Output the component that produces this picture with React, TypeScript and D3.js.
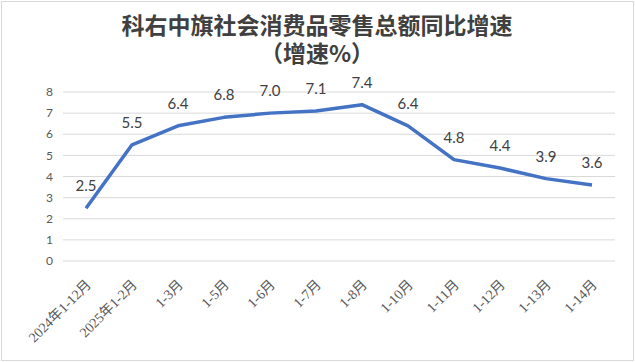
import * as d3 from "d3";

const categories = [
  "2024年1-12月",
  "2025年1-2月",
  "1-3月",
  "1-5月",
  "1-6月",
  "1-7月",
  "1-8月",
  "1-10月",
  "1-11月",
  "1-12月",
  "1-13月",
  "1-14月",
];
const growth = [2.5, 5.5, 6.4, 6.8, 7.0, 7.1, 7.4, 6.4, 4.8, 4.4, 3.9, 3.6];
const yTicks = [0, 1, 2, 3, 4, 5, 6, 7, 8];
const titleLines = ["科右中旗社会消费品零售总额同比增速", "（增速%）"];

const width = 635;
const height = 362;
const plotLeft = 63;
const plotRight = 615;
const plotTop = 92;
const plotBottom = 261;

export default function App() {
  const x = d3
    .scaleBand<string>()
    .domain(categories)
    .range([plotLeft, plotRight]);
  const y = d3.scaleLinear().domain([0, 8]).range([plotBottom, plotTop]);

  const cx = (c: string) => (x(c) ?? 0) + x.bandwidth() / 2;

  const line = d3
    .line<number>()
    .x((_, i) => cx(categories[i]))
    .y((d) => y(d));

  return (
    <svg
      width={width}
      height={height}
      style={{ position: "absolute", left: 0, top: 0, background: "#fff" }}
    >
      <rect x={1.5} y={1.5} width={632} height={359} fill="#fff" stroke="#d9d9d9" />

      {titleLines.map((t, i) => (
        <text
          key={t}
          x={317}
          y={34 + i * 28}
          textAnchor="middle"
          fontFamily="'Noto Sans CJK SC', sans-serif"
          fontSize={23}
          fontWeight={700}
          fill="#404040"
        >
          {t}
        </text>
      ))}

      {yTicks.map((t) => (
        <g key={t}>
          <line
            x1={plotLeft}
            x2={plotRight}
            y1={y(t)}
            y2={y(t)}
            stroke="#d9d9d9"
            strokeWidth={1}
          />
          <text
            x={53}
            y={y(t)}
            dy="0.35em"
            textAnchor="end"
            fontFamily="Lato, 'Open Sans', sans-serif"
            fontSize={12}
            fill="#595959"
          >
            {t}
          </text>
        </g>
      ))}

      {categories.map((c) => (
        <text
          key={c}
          transform={`translate(${cx(c) + 6},${plotBottom + 24.5}) rotate(-45)`}
          textAnchor="end"
          fontFamily="'Liberation Serif', 'Noto Sans CJK SC', serif"
          fontSize={14}
          fill="#595959"
        >
          {c}
        </text>
      ))}

      <path
        d={line(growth) ?? ""}
        fill="none"
        stroke="#4472c4"
        strokeWidth={3.5}
        strokeLinejoin="round"
      />

      {growth.map((v, i) => (
        <text
          key={categories[i]}
          x={cx(categories[i])}
          y={y(v) - 17}
          textAnchor="middle"
          fontFamily="Lato, 'Open Sans', sans-serif"
          fontSize={15}
          fill="#404040"
        >
          {v.toFixed(1)}
        </text>
      ))}
    </svg>
  );
}
